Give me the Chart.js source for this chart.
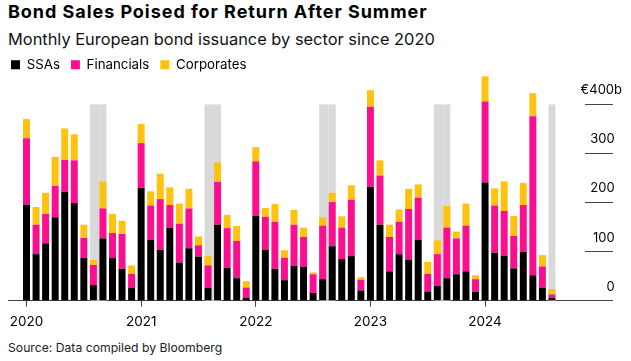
<!DOCTYPE html>
<html>
<head>
<meta charset="utf-8">
<script src="https://cdn.jsdelivr.net/npm/chart.js@4.4.1/dist/chart.umd.min.js"></script>
<style>
  body { margin: 0; background: #fff; width: 631px; height: 361px; overflow: hidden; position: relative; font-family: Inter, "Liberation Sans", sans-serif; }
  .txt { position: absolute; left: 8px; white-space: nowrap; }
  #title { top: 3px; font-weight: 700; font-size: 18px; line-height: 18px; letter-spacing: 0.95px; color: #000; }
  #subtitle { top: 31px; font-size: 16.4px; line-height: 16.4px; color: #111; }
  #source { top: 342px; font-size: 12.2px; line-height: 12.2px; color: #222; }
  #wrap { position: absolute; left: 0; top: 46px; width: 631px; height: 291px; }
</style>
</head>
<body>
<div class="txt" id="title">Bond Sales Poised for Return After Summer</div>
<div class="txt" id="subtitle">Monthly European bond issuance by sector since 2020</div>
<div id="wrap"><canvas id="chart"></canvas></div>
<div class="txt" id="source">Source: Data compiled by Bloomberg</div>
<script>
// monthly issuance, EUR billions
const months = [
	"2020-01", "2020-02", "2020-03", "2020-04", "2020-05", "2020-06", "2020-07", "2020-08", "2020-09", "2020-10", "2020-11", "2020-12",
	"2021-01", "2021-02", "2021-03", "2021-04", "2021-05", "2021-06", "2021-07", "2021-08", "2021-09", "2021-10", "2021-11", "2021-12",
	"2022-01", "2022-02", "2022-03", "2022-04", "2022-05", "2022-06", "2022-07", "2022-08", "2022-09", "2022-10", "2022-11", "2022-12",
	"2023-01", "2023-02", "2023-03", "2023-04", "2023-05", "2023-06", "2023-07", "2023-08", "2023-09", "2023-10", "2023-11", "2023-12",
	"2024-01", "2024-02", "2024-03", "2024-04", "2024-05", "2024-06", "2024-07", "2024-08",
];
const ssas = [
	196, 95, 117, 170, 222, 199, 87, 32, 127, 87, 65, 26,
	230, 124, 104, 149, 78, 107, 90, 26, 155, 67, 46, 6,
	173, 104, 65, 42, 71, 69, 16, 44, 111, 85, 91, 21,
	232, 155, 60, 95, 84, 124, 19, 30, 46, 54, 60, 18,
	241, 98, 92, 66, 100, 52, 27, 6,
];
const financials = [
	135, 60, 60, 64, 65, 87, 41, 41, 61, 51, 71, 29,
	91, 70, 103, 46, 79, 81, 23, 46, 87, 81, 76, 21,
	111, 67, 96, 46, 84, 61, 38, 109, 90, 64, 115, 22,
	163, 100, 70, 66, 103, 86, 36, 65, 103, 73, 93, 26,
	165, 96, 91, 66, 95, 324, 43, 7,
];
const corporates = [
	39, 36, 43, 59, 64, 53, 27, 10, 55, 39, 27, 17,
	39, 29, 52, 36, 41, 40, 18, 19, 40, 27, 30, 13,
	29, 18, 36, 15, 30, 19, 4, 17, 19, 23, 29, 5,
	34, 31, 25, 25, 41, 27, 24, 28, 44, 14, 45, 8,
	51, 35, 60, 41, 45, 47, 23, 11,
];
const seriesNames = ["SSAs", "Financials", "Corporates"];
const seriesColors = ["#000000", "#fc0f8e", "#ffc20e"];

// summer months shaded in grey
const shadedMonths = ["2020-08", "2020-09", "2021-08", "2021-09", "2022-08", "2022-09", "2023-08", "2023-09", "2024-08"];
const bandTop = 400;

const yTicks = [0, 100, 200, 300, 400];
const yTickLabels = ["0", "100", "200", "300", "€400b"];
const yearTicks = months.map((m, i) => (m.endsWith("-01") ? i : -1)).filter((i) => i >= 0);

const FONT = "Inter, 'Liberation Sans', sans-serif";
const INK = "#444";

const summerBands = {
	id: "summerBands",
	beforeDatasetsDraw(chart) {
		const { ctx, scales } = chart;
		const bars = chart.getDatasetMeta(0).data;
		const top = scales.y.getPixelForValue(bandTop);
		const bottom = scales.y.getPixelForValue(0);
		ctx.save();
		ctx.fillStyle = "#d9d9d9";
		shadedMonths.forEach((m) => {
			const i = months.indexOf(m);
			const bar = bars[i];
			if (!bar) return;
			const half = bar.width / 2;
			const next = bars[i + 1];
			const left = bar.x - half;
			const right = next && shadedMonths.includes(months[i + 1]) ? next.x - half : bar.x + half;
			ctx.fillRect(left, top, right - left, bottom - top);
		});
		ctx.restore();
	},
};

const datasets = [ssas, financials, corporates].map((values, k) => ({
	label: seriesNames[k],
	data: values.map((v, i) => ({ x: i, y: v })),
	backgroundColor: seriesColors[k],
	borderColor: seriesColors[k],
	borderWidth: 0,
	stack: "all",
	barPercentage: 0.73,
	categoryPercentage: 1,
	clip: false,
}));

const ctx = document.getElementById("chart").getContext("2d");
new Chart(ctx, {
	type: "bar",
	data: { datasets },
	plugins: [summerBands],
	options: {
		responsive: true,
		maintainAspectRatio: false,
		animation: false,
		layout: { padding: { top: 1, right: 9, bottom: 0, left: 0 } },
		plugins: {
			legend: {
				position: "top",
				align: "start",
				labels: {
					boxWidth: 9,
					boxHeight: 9,
					padding: 11,
					color: "#000",
					font: { family: FONT, size: 13.3 },
				},
			},
			tooltip: { enabled: false },
		},
		scales: {
			x: {
				type: "linear",
				stacked: true,
				offset: false,
				min: -1.937,
				max: 58.46,
				afterBuildTicks: (axis) => {
					axis.ticks = yearTicks.map((i) => ({ value: i }));
				},
				ticks: {
					callback: (value) => months[value].slice(0, 4),
					color: "#000",
					padding: 7,
					maxRotation: 0,
					font: { family: FONT, size: 13.5 },
				},
				grid: { offset: false, drawOnChartArea: false, drawTicks: true, tickLength: 6, color: INK },
				border: { display: true, color: INK },
			},
			y: {
				position: "right",
				stacked: true,
				min: 0,
				max: 447,
				afterBuildTicks: (axis) => {
					axis.ticks = yTicks.map((v) => ({ value: v }));
				},
				afterFit: (axis) => {
					axis.width = 37;
					axis.paddingTop = 0;
					axis.paddingBottom = 0;
				},
				ticks: {
					mirror: true,
					padding: 37,
					labelOffset: -14,
					color: "#000",
					font: { family: FONT, size: 13 },
					// pad plain numbers so the digits line up under "400" and the b hangs out
					callback: (value, i) => (yTickLabels[i].endsWith("b") ? yTickLabels[i] : yTickLabels[i] + "  "),
				},
				grid: { drawOnChartArea: false, drawTicks: true, tickLength: 28, color: INK },
				border: { display: false },
			},
			pad: {
				type: "linear",
				axis: "y",
				position: "left",
				display: true,
				ticks: { display: false },
				grid: { display: false },
				border: { display: false },
				afterFit: (axis) => {
					axis.width = 8;
				},
			},
		},
	},
});
</script>
</body>
</html>
